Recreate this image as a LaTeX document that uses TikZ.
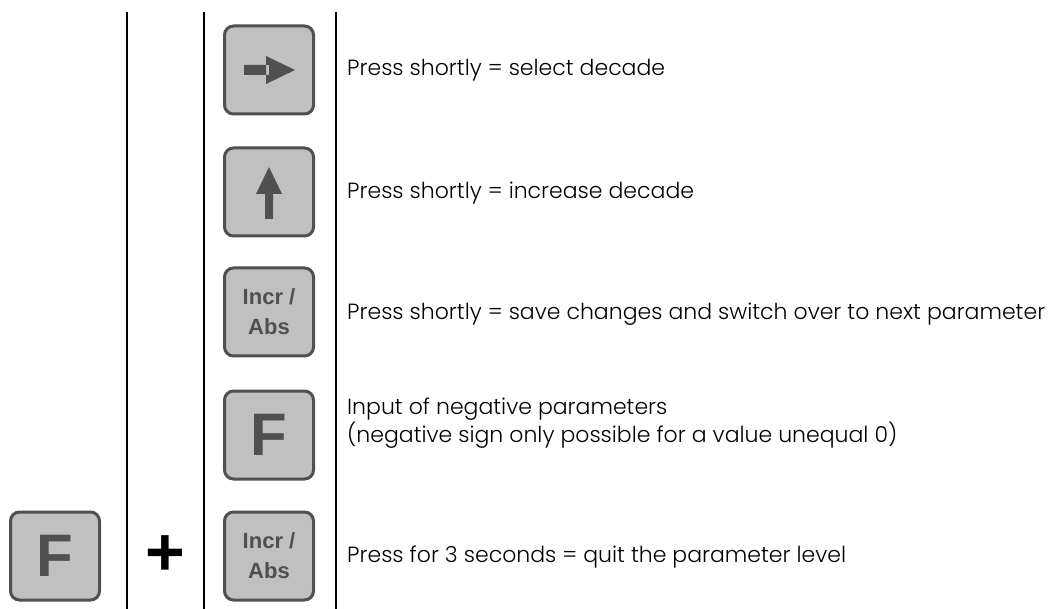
\documentclass[tikz,border=0pt]{standalone}
\usepackage{fontspec}
\setmainfont{Poppins}[UprightFont=* Light]
\newfontfamily\keyfont{Liberation Sans}
\definecolor{keyfill}{HTML}{C0C0C0}
\definecolor{keyrim}{HTML}{505050}
\tikzset{
  key/.style={draw=keyrim, fill=keyfill, line width=3pt, rounded corners=9pt,
    minimum width=89pt, minimum height=88pt, inner sep=0pt,
    text=keyrim, font=\keyfont\bfseries\fontsize{22}{30}\selectfont, align=center},
  bigkey/.style={key, font=\keyfont\bfseries\fontsize{60}{60}\selectfont},
  note/.style={anchor=west, align=left, inner sep=0pt,
    font=\fontsize{22}{26}\selectfont}
}

\begin{document}
\begin{tikzpicture}[x=1pt, y=-1pt]   %% pixel grid
	\useasboundingbox (0,0) rectangle (1057,609);
	\draw [line width=2pt] (127,12)--(127,609);
	\draw [line width=2pt] (204,12)--(204,609);
	\draw [line width=2pt] (336,12)--(336,609);
	\node [key] (right) at (269,70) {};
	\fill [keyrim] ([xshift=-25pt,yshift=-5pt]right.center) rectangle ([xshift=0pt,yshift=5pt]right.center)
		([xshift=-3pt,yshift=-14pt]right.center) -- ([xshift=26pt]right.center) -- ([xshift=-3pt,yshift=14pt]right.center) -- cycle;
	\node [key] (up) at (269,192) {};
	\fill [keyrim] ([xshift=-4pt,yshift=-27pt]up.center) rectangle ([xshift=4pt,yshift=0pt]up.center)
		([xshift=-13pt,yshift=-2pt]up.center) -- ([yshift=25pt]up.center) -- ([xshift=13pt,yshift=-2pt]up.center) -- cycle;
	\node [key] (incr) at (269,312) {Incr /\\Abs};
	\node [bigkey] (fkey) at (269,435) {F};
	\node [key] (incrb) at (269,556) {Incr /\\Abs};
	\node [bigkey] (fleft) at (55,556) {F};
	\node [font=\keyfont\bfseries\fontsize{68}{68}\selectfont, inner sep=0pt] (plus) at (165,556) {+};
	\node [note] (tright) at (347,70) {Press shortly = select decade};
	\node [note] (tup) at (347,193) {Press shortly = increase decade};
	\node [note] (tincr) at (347,314) {Press shortly = save changes and switch over to next parameter};
	\node [note] (tf) at (347,423) {Input of negative parameters\\(negative sign only possible for a value unequal 0)};
	\node [note] (tquit) at (347,557) {Press for 3 seconds = quit the parameter level};
\end{tikzpicture}
\end{document}
